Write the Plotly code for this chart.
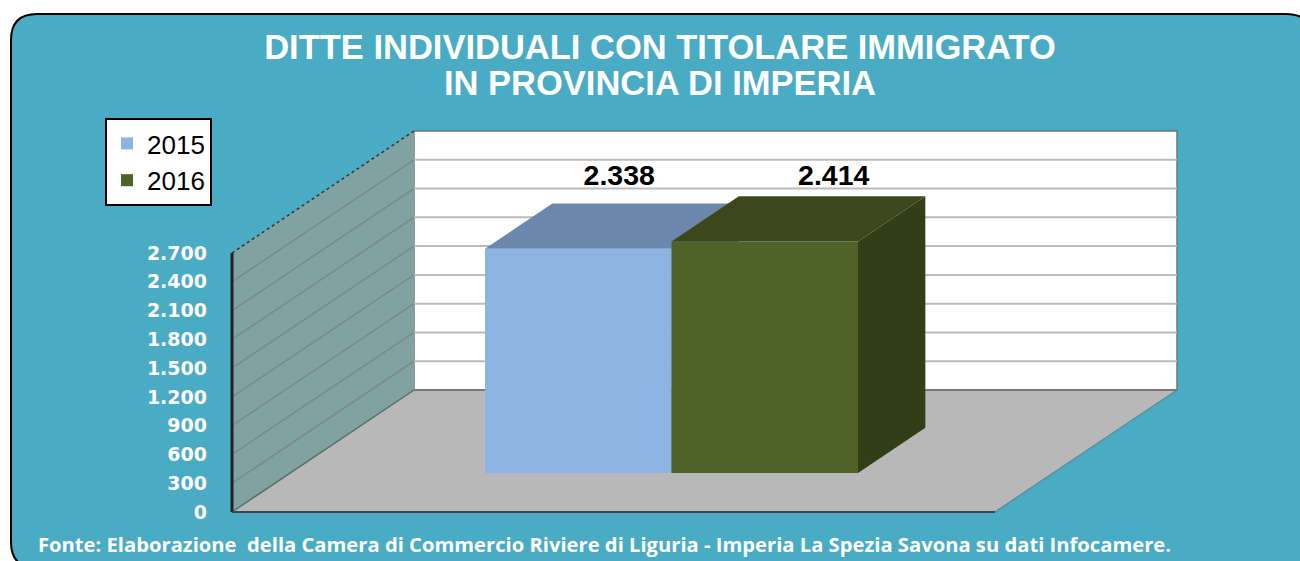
import plotly.graph_objects as go

# ---- data ----
years = ["2015", "2016"]
values = [2338, 2414]
tick_values = [0, 300, 600, 900, 1200, 1500, 1800, 2100, 2400, 2700]
title_lines = ["DITTE INDIVIDUALI CON TITOLARE IMMIGRATO", "IN PROVINCIA DI IMPERIA"]
source = "Fonte: Elaborazione  della Camera di Commercio Riviere di Liguria - Imperia La Spezia Savona su dati Infocamere."

front_colors = ["#8DB3E2", "#4F6228"]
top_colors = ["#6C89AD", "#3C481C"]
side_colors = ["#6C89AD", "#323E15"]

# ---- canvas / projection geometry ----
W, H = 1300, 561
AX_L, AX_R, AX_T, AX_B = 225, 1182, 126, 517      # plot rectangle, px
FRAME_L, FRAME_B = 232, 512                       # front-left corner of the chart box, px
FLOOR_R_PX = 995
BAR_PX = 186.5                                    # px per bar width
BAR0_L = 485                                      # left px of first bar
VAL_PX = 259 / 2700                               # px per unit of value
DEPTH_X_PX, DEPTH_Y_PX = 182, 122                 # floor depth vector, px
LABEL_SHIFT_PX = [(41, 26), (69, 18)]             # value label offset from the top-back edge, px

x_of = lambda px: -0.5 + (px - BAR0_L) / BAR_PX
y_of = lambda px: (FRAME_B - px) / VAL_PX
x_lo, x_hi = x_of(AX_L), x_of(AX_R)
y_lo, y_hi = y_of(AX_B), y_of(AX_T)
x_min = x_of(FRAME_L)
floor_right = x_of(FLOOR_R_PX)
DX = DEPTH_X_PX / BAR_PX
DV = DEPTH_Y_PX / VAL_PX
BAR_DEPTH_FRONT = 0.32
BAR_DEPTH_BACK = 0.69
top_val = tick_values[-1]


def pt(x, v, d):
    return x + d * DX, v + d * DV


def poly(points):
    xs = [p[0] for p in points]
    ys = [p[1] for p in points]
    return xs + xs[:1], ys + ys[:1]


def shape_path(points):
    return "M" + " L".join(f"{x},{y}" for x, y in points) + " Z"


fig = go.Figure()

# bars and their 3-D faces; the second series lies on an overlaying pair of axes
base = BAR_DEPTH_FRONT * DV
depth = BAR_DEPTH_BACK - BAR_DEPTH_FRONT
for i, (yr, val) in enumerate(zip(years, values)):
    xa, ya = ("x", "y") if i == 0 else ("x2", "y2")
    fig.add_trace(go.Bar(x=[i], y=[val], base=[base], width=[1.0], name=yr,
                         marker=dict(color=front_colors[i], line=dict(width=0)),
                         xaxis=xa, yaxis=ya, hoverinfo="name+y"))
    l, r = i - 0.5, i + 0.5
    front_top_l = (l, val + base)
    front_top_r = (r, val + base)
    back = lambda p: (p[0] + depth * DX, p[1] + depth * DV)
    xs, ys = poly([front_top_l, front_top_r, back(front_top_r), back(front_top_l)])
    fig.add_trace(go.Scatter(x=xs, y=ys, mode="lines", fill="toself", fillcolor=top_colors[i],
                             line=dict(width=0), showlegend=False, hoverinfo="skip",
                             xaxis=xa, yaxis=ya))
    front_bot_r = (r, base)
    xs, ys = poly([front_top_r, back(front_top_r), back(front_bot_r), front_bot_r])
    fig.add_trace(go.Scatter(x=xs, y=ys, mode="lines", fill="toself", fillcolor=side_colors[i],
                             line=dict(width=0), showlegend=False, hoverinfo="skip",
                             xaxis=xa, yaxis=ya))
    # value label
    lx, ly = back((i, val + base))
    sx, sy = LABEL_SHIFT_PX[i]
    fig.add_trace(go.Scatter(x=[lx + (sx - depth * DEPTH_X_PX) / BAR_PX], y=[ly + sy / VAL_PX],
                             mode="text",
                             text=[f"{val:,}".replace(",", ".")], textposition="middle center",
                             textfont=dict(family="Liberation Sans", size=28.5, color="#000000", weight="bold"),
                             showlegend=False, hoverinfo="skip", xaxis=xa, yaxis=ya, cliponaxis=False))

# ---- walls, floor, gridlines as data-referenced shapes ----
shapes = []


def panel(points, fill, line_color=None, line_width=0):
    shapes.append(dict(type="path", path=shape_path(points), xref="x", yref="y", layer="below",
                       fillcolor=fill, line=dict(color=line_color or fill, width=line_width)))


def seg(p, q, color, width, dash="solid"):
    shapes.append(dict(type="line", x0=p[0], y0=p[1], x1=q[0], y1=q[1], xref="x", yref="y",
                       layer="below", line=dict(color=color, width=width, dash=dash)))


# rounded card behind everything, in paper fractions
r = 26
cx0, cy0, cx1, cy1 = 11, 14, 1312, 568
fx = lambda p: p / W
fy = lambda p: 1 - p / H
card = (f"M{fx(cx0)},{fy(cy0 + r)} Q{fx(cx0)},{fy(cy0)} {fx(cx0 + r)},{fy(cy0)} "
        f"L{fx(cx1 - r)},{fy(cy0)} Q{fx(cx1)},{fy(cy0)} {fx(cx1)},{fy(cy0 + r)} "
        f"L{fx(cx1)},{fy(cy1 - r)} Q{fx(cx1)},{fy(cy1)} {fx(cx1 - r)},{fy(cy1)} "
        f"L{fx(cx0 + r)},{fy(cy1)} Q{fx(cx0)},{fy(cy1)} {fx(cx0)},{fy(cy1 - r)} Z")
shapes.append(dict(type="path", path=card, xref="paper", yref="paper", layer="below",
                   fillcolor="#4AABC5", line=dict(color="#000000", width=2)))

panel([pt(x_min, 0, 1), pt(floor_right, 0, 1), pt(floor_right, top_val, 1), pt(x_min, top_val, 1)],
      "#FFFFFF", "#6E7777", 1.5)
panel([pt(x_min, 0, 0), pt(floor_right, 0, 0), pt(floor_right, 0, 1), pt(x_min, 0, 1)], "#B8B8B8")
panel([pt(x_min, 0, 0), pt(x_min, 0, 1), pt(x_min, top_val, 1), pt(x_min, top_val, 0)], "#80A2A3")

for v in tick_values[1:-1]:
    seg(pt(x_min, v, 1), pt(floor_right, v, 1), "#BBBBBB", 2)
    seg(pt(x_min, v, 0), pt(x_min, v, 1), "#7E8787", 1.5)

seg(pt(x_min, 0, 1), pt(floor_right, 0, 1), "#777777", 2)
seg(pt(floor_right, 0, 0), pt(floor_right, 0, 1), "#5F8C9A", 1.5)
seg(pt(x_min, top_val, 0), pt(x_min, top_val, 1), "#333333", 1.5, "dot")
seg(pt(x_min, 0, 0), pt(x_min, 0, 1), "#54706F", 1.5)
seg(pt(x_min, 0, 0), pt(x_min, top_val, 0), "#222222", 3)
seg(pt(x_min, 0, 0), pt(floor_right, 0, 0), "#444444", 2)

annotations = [
    dict(text=f"<b>{title_lines[1]}</b>", xref="paper", yref="paper", x=660 / W, y=fy(83),
         xanchor="center", yanchor="middle", showarrow=False,
         font=dict(family="Liberation Sans", size=34.5, color="#FFFFFF")),
    dict(text=f"<b>{source}</b>", xref="paper", yref="paper", x=35.5 / W, y=fy(544),
         xanchor="left", yanchor="middle", showarrow=False,
         font=dict(family="Open Sans", size=20.2, color="#FFFFFF")),
]

fig.update_layout(
    width=W, height=H, autosize=False,
    margin=dict(l=0, r=0, t=0, b=0, autoexpand=False),
    paper_bgcolor="#FFFFFF", plot_bgcolor="rgba(0,0,0,0)",
    separators=",.",
    barmode="overlay",
    title=dict(text=f"<b>{title_lines[0]}</b>", x=660 / W, xanchor="center", xref="paper",
               y=fy(47), yanchor="middle",
               font=dict(family="Liberation Sans", size=34.5, color="#FFFFFF")),
    xaxis=dict(domain=[AX_L / W, AX_R / W], range=[x_lo, x_hi], visible=False, fixedrange=True),
    yaxis=dict(domain=[1 - AX_B / H, 1 - AX_T / H], range=[y_lo, y_hi], tickmode="array",
               tickvals=tick_values, tickformat=",d", showgrid=False, zeroline=False, showline=False,
               ticks="", ticklabelposition="outside", ticklabelstandoff=17,
               tickfont=dict(family="DejaVu Sans", size=19, color="#FFFFFF", weight="bold"),
               fixedrange=True),
    xaxis2=dict(domain=[AX_L / W, AX_R / W], range=[x_lo, x_hi], visible=False,
                overlaying="x", anchor="y2", fixedrange=True),
    yaxis2=dict(domain=[1 - AX_B / H, 1 - AX_T / H], range=[y_lo, y_hi], visible=False,
                overlaying="y", anchor="x2", fixedrange=True),
    legend=dict(x=105 / W, y=fy(118), xanchor="left", yanchor="top", bgcolor="#FFFFFF",
                bordercolor="#000000", borderwidth=2,
                font=dict(family="Liberation Sans", size=26, color="#000000"),
                itemwidth=30),
    shapes=shapes,
    annotations=annotations,
    showlegend=True,
)

fig.write_html("out.html", config=dict(displayModeBar=False),
               post_script="document.body.style.margin='0';document.body.style.overflow='hidden';")
